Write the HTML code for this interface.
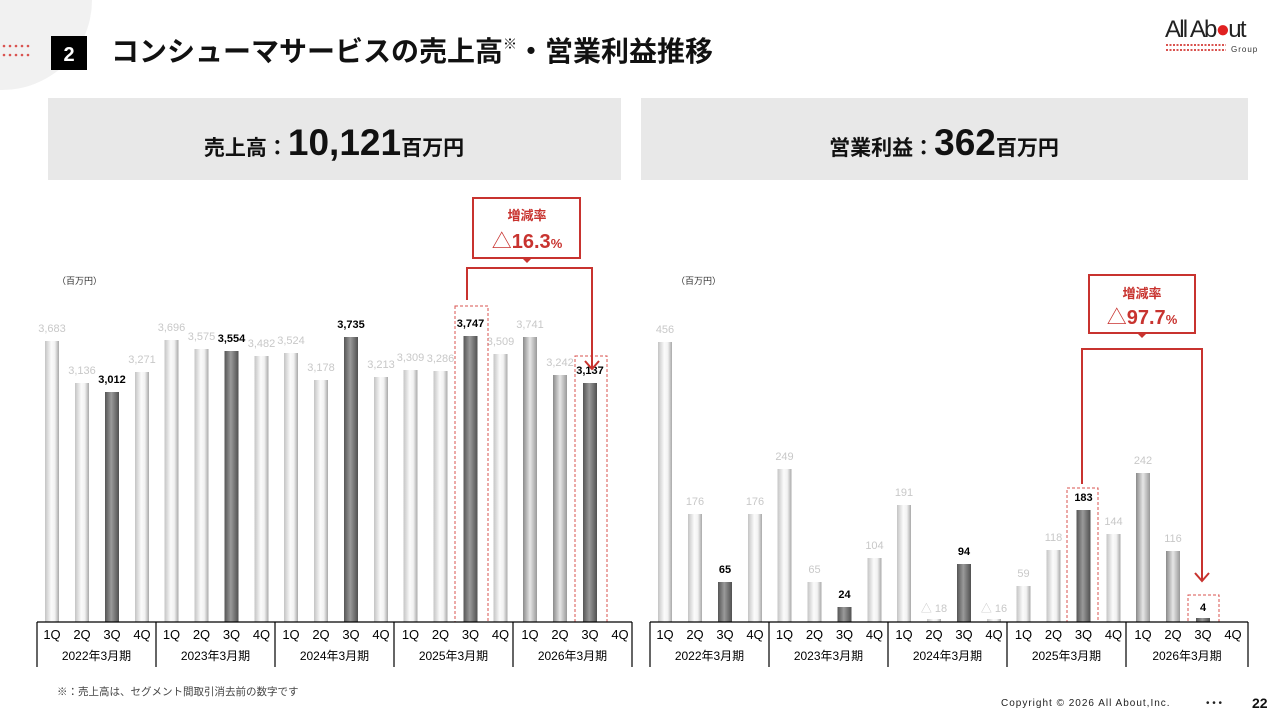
<!DOCTYPE html>
<html><head><meta charset="utf-8"><style>
html,body{margin:0;padding:0;background:#fff}
svg{display:block;font-family:"Liberation Sans","Noto Sans CJK JP",sans-serif}
.l{fill:#c8c8c8;font-size:11px;text-anchor:middle}
.d{fill:#000;font-size:11px;font-weight:bold;text-anchor:middle}
.q{font-size:13px;text-anchor:middle;fill:#000}
.y{font-size:12px;text-anchor:middle;fill:#000}
</style></head><body>
<svg width="1280" height="720" viewBox="0 0 1280 720" xmlns="http://www.w3.org/2000/svg">
<defs>
<linearGradient id="gl" x1="0" x2="1"><stop offset="0" stop-color="#c4c4c4"/><stop offset=".45" stop-color="#fbfbfb"/><stop offset=".7" stop-color="#f2f2f2"/><stop offset="1" stop-color="#a8a8a8"/></linearGradient>
<linearGradient id="gd" x1="0" x2="1"><stop offset="0" stop-color="#555"/><stop offset=".45" stop-color="#9a9a9a"/><stop offset="1" stop-color="#505050"/></linearGradient>
<linearGradient id="gm" x1="0" x2="1"><stop offset="0" stop-color="#8a8a8a"/><stop offset=".5" stop-color="#e6e6e6"/><stop offset="1" stop-color="#999"/></linearGradient>
</defs>
<path d="M0 0 H92 A90 90 0 0 1 0 90 Z" fill="#f1f1f1"/>
<g fill="#d9534f">
<circle cx="4" cy="46" r="1.3"/><circle cx="10" cy="46" r="1.3"/><circle cx="16" cy="46" r="1.3"/><circle cx="22" cy="46" r="1.3"/><circle cx="28" cy="46" r="1.3"/>
<circle cx="4" cy="55" r="1.3"/><circle cx="10" cy="55" r="1.3"/><circle cx="16" cy="55" r="1.3"/><circle cx="22" cy="55" r="1.3"/><circle cx="28" cy="55" r="1.3"/>
</g>
<rect x="51" y="36" width="36" height="34" fill="#000"/>
<text x="69" y="61" fill="#fff" font-size="20" font-weight="bold" text-anchor="middle">2</text>
<text x="111" y="61" font-size="28" font-weight="bold" fill="#111">コンシューマサービスの売上高<tspan font-size="14" dy="-12">※</tspan><tspan dy="12">・営業利益推移</tspan></text>
<text x="1165" y="37" font-size="24" fill="#222" letter-spacing="-1.8">All Ab<tspan fill="#e02020">●</tspan>ut</text>
<g stroke="#d9534f" stroke-width="2" stroke-dasharray="2,1.5"><line x1="1166" y1="45" x2="1226" y2="45"/><line x1="1166" y1="50" x2="1226" y2="50"/></g>
<text x="1231" y="52" font-size="8" fill="#333" letter-spacing="1">Group</text>
<rect x="48" y="98" width="573" height="82" fill="#e8e8e8"/>
<rect x="641" y="98" width="607" height="82" fill="#e8e8e8"/>
<text x="334" y="155" text-anchor="middle" font-weight="bold" fill="#111"><tspan font-size="21">売上高：</tspan><tspan font-size="37">10,121</tspan><tspan font-size="21">百万円</tspan></text>
<text x="944" y="155" text-anchor="middle" font-weight="bold" fill="#111"><tspan font-size="21">営業利益：</tspan><tspan font-size="37">362</tspan><tspan font-size="21">百万円</tspan></text>
<text x="57" y="284" font-size="9" fill="#333">（百万円）</text>
<text x="676" y="284" font-size="9" fill="#333">（百万円）</text>

<g>
<rect x="45" y="341" width="14" height="281" fill="url(#gl)"/><text class="l" x="52" y="332">3,683</text>
<rect x="75" y="383" width="14" height="239" fill="url(#gl)"/><text class="l" x="82" y="374">3,136</text>
<rect x="105" y="392" width="14" height="230" fill="url(#gd)"/><text class="d" x="112" y="383">3,012</text>
<rect x="135" y="372" width="14" height="250" fill="url(#gl)"/><text class="l" x="142" y="363">3,271</text>
<rect x="164.5" y="340" width="14" height="282" fill="url(#gl)"/><text class="l" x="171.5" y="331">3,696</text>
<rect x="194.5" y="349" width="14" height="273" fill="url(#gl)"/><text class="l" x="201.5" y="340">3,575</text>
<rect x="224.5" y="351" width="14" height="271" fill="url(#gd)"/><text class="d" x="231.5" y="342">3,554</text>
<rect x="254.5" y="356" width="14" height="266" fill="url(#gl)"/><text class="l" x="261.5" y="347">3,482</text>
<rect x="284" y="353" width="14" height="269" fill="url(#gl)"/><text class="l" x="291" y="344">3,524</text>
<rect x="314" y="380" width="14" height="242" fill="url(#gl)"/><text class="l" x="321" y="371">3,178</text>
<rect x="344" y="337" width="14" height="285" fill="url(#gd)"/><text class="d" x="351" y="328">3,735</text>
<rect x="374" y="377" width="14" height="245" fill="url(#gl)"/><text class="l" x="381" y="368">3,213</text>
<rect x="403.5" y="370" width="14" height="252" fill="url(#gl)"/><text class="l" x="410.5" y="361">3,309</text>
<rect x="433.5" y="371" width="14" height="251" fill="url(#gl)"/><text class="l" x="440.5" y="362">3,286</text>
<rect x="463.5" y="336" width="14" height="286" fill="url(#gd)"/><text class="d" x="470.5" y="327">3,747</text>
<rect x="493.5" y="354" width="14" height="268" fill="url(#gl)"/><text class="l" x="500.5" y="345">3,509</text>
<rect x="523" y="337" width="14" height="285" fill="url(#gm)"/><text class="l" x="530" y="328">3,741</text>
<rect x="553" y="375" width="14" height="247" fill="url(#gm)"/><text class="l" x="560" y="366">3,242</text>
<rect x="583" y="383" width="14" height="239" fill="url(#gd)"/><text class="d" x="590" y="374">3,137</text>
</g>
<g>
<rect x="658" y="342" width="14" height="280" fill="url(#gl)"/><text class="l" x="665" y="333">456</text>
<rect x="688" y="514" width="14" height="108" fill="url(#gl)"/><text class="l" x="695" y="505">176</text>
<rect x="718" y="582" width="14" height="40" fill="url(#gd)"/><text class="d" x="725" y="573">65</text>
<rect x="748" y="514" width="14" height="108" fill="url(#gl)"/><text class="l" x="755" y="505">176</text>
<rect x="777.5" y="469" width="14" height="153" fill="url(#gl)"/><text class="l" x="784.5" y="460">249</text>
<rect x="807.5" y="582" width="14" height="40" fill="url(#gl)"/><text class="l" x="814.5" y="573">65</text>
<rect x="837.5" y="607" width="14" height="15" fill="url(#gd)"/><text class="d" x="844.5" y="598">24</text>
<rect x="867.5" y="558" width="14" height="64" fill="url(#gl)"/><text class="l" x="874.5" y="549">104</text>
<rect x="897" y="505" width="14" height="117" fill="url(#gl)"/><text class="l" x="904" y="496">191</text>
<rect x="927" y="619" width="14" height="3" fill="url(#gl)"/><text class="l" x="934" y="612">△ 18</text>
<rect x="957" y="564" width="14" height="58" fill="url(#gd)"/><text class="d" x="964" y="555">94</text>
<rect x="987" y="619" width="14" height="3" fill="url(#gl)"/><text class="l" x="994" y="612">△ 16</text>
<rect x="1016.5" y="586" width="14" height="36" fill="url(#gl)"/><text class="l" x="1023.5" y="577">59</text>
<rect x="1046.5" y="550" width="14" height="72" fill="url(#gl)"/><text class="l" x="1053.5" y="541">118</text>
<rect x="1076.5" y="510" width="14" height="112" fill="url(#gd)"/><text class="d" x="1083.5" y="501">183</text>
<rect x="1106.5" y="534" width="14" height="88" fill="url(#gl)"/><text class="l" x="1113.5" y="525">144</text>
<rect x="1136" y="473" width="14" height="149" fill="url(#gm)"/><text class="l" x="1143" y="464">242</text>
<rect x="1166" y="551" width="14" height="71" fill="url(#gm)"/><text class="l" x="1173" y="542">116</text>
<rect x="1196" y="618" width="14" height="4" fill="url(#gd)"/><text class="d" x="1203" y="611">4</text>
</g>

<g fill="none" stroke="#d9534f" stroke-width="1" stroke-dasharray="3,2">
<rect x="455" y="306" width="33" height="316"/>
<rect x="575" y="356" width="32" height="266"/>
<rect x="1067" y="488" width="31" height="134"/>
<rect x="1188" y="595" width="31" height="27"/>
</g>
<g fill="none" stroke="#c8332f" stroke-width="2">
<rect x="473" y="198" width="107" height="60" fill="#fff"/>
<polyline points="467,300 467,268 592,268 592,368"/>
<polyline points="585,361 592,369 599,361"/>
<rect x="1089" y="275" width="106" height="58" fill="#fff"/>
<polyline points="1082,484 1082,349 1202,349 1202,580"/>
<polyline points="1195,573 1202,581 1209,573"/>
</g>
<polygon points="522,258 532,258 527,263" fill="#c8332f"/>
<polygon points="1137,333 1147,333 1142,338" fill="#c8332f"/>
<g fill="#c8332f" font-weight="bold" text-anchor="middle">
<text x="527" y="220" font-size="13">増減率</text>
<text x="527" y="248" font-size="20"><tspan font-weight="normal">△</tspan>16.3<tspan font-size="13">%</tspan></text>
<text x="1142" y="298" font-size="13">増減率</text>
<text x="1142" y="324" font-size="20"><tspan font-weight="normal">△</tspan>97.7<tspan font-size="13">%</tspan></text>
</g>

<g stroke="#000" stroke-width="1.2">
<line x1="37" y1="622" x2="632" y2="622"/>
<line x1="37" y1="622" x2="37" y2="667"/><line x1="156" y1="622" x2="156" y2="667"/><line x1="275" y1="622" x2="275" y2="667"/><line x1="394" y1="622" x2="394" y2="667"/><line x1="513" y1="622" x2="513" y2="667"/><line x1="632" y1="622" x2="632" y2="667"/>
<line x1="650" y1="622" x2="1248" y2="622"/>
<line x1="650" y1="622" x2="650" y2="667"/><line x1="769" y1="622" x2="769" y2="667"/><line x1="888" y1="622" x2="888" y2="667"/><line x1="1007" y1="622" x2="1007" y2="667"/><line x1="1126" y1="622" x2="1126" y2="667"/><line x1="1248" y1="622" x2="1248" y2="667"/>
</g>
<g>
<text class="q" x="52" y="639">1Q</text><text class="q" x="82" y="639">2Q</text><text class="q" x="112" y="639">3Q</text><text class="q" x="142" y="639">4Q</text>
<text class="q" x="171.5" y="639">1Q</text><text class="q" x="201.5" y="639">2Q</text><text class="q" x="231.5" y="639">3Q</text><text class="q" x="261.5" y="639">4Q</text>
<text class="q" x="291" y="639">1Q</text><text class="q" x="321" y="639">2Q</text><text class="q" x="351" y="639">3Q</text><text class="q" x="381" y="639">4Q</text>
<text class="q" x="410.5" y="639">1Q</text><text class="q" x="440.5" y="639">2Q</text><text class="q" x="470.5" y="639">3Q</text><text class="q" x="500.5" y="639">4Q</text>
<text class="q" x="530" y="639">1Q</text><text class="q" x="560" y="639">2Q</text><text class="q" x="590" y="639">3Q</text><text class="q" x="620" y="639">4Q</text>
<text class="q" x="665" y="639">1Q</text><text class="q" x="695" y="639">2Q</text><text class="q" x="725" y="639">3Q</text><text class="q" x="755" y="639">4Q</text>
<text class="q" x="784.5" y="639">1Q</text><text class="q" x="814.5" y="639">2Q</text><text class="q" x="844.5" y="639">3Q</text><text class="q" x="874.5" y="639">4Q</text>
<text class="q" x="904" y="639">1Q</text><text class="q" x="934" y="639">2Q</text><text class="q" x="964" y="639">3Q</text><text class="q" x="994" y="639">4Q</text>
<text class="q" x="1023.5" y="639">1Q</text><text class="q" x="1053.5" y="639">2Q</text><text class="q" x="1083.5" y="639">3Q</text><text class="q" x="1113.5" y="639">4Q</text>
<text class="q" x="1143" y="639">1Q</text><text class="q" x="1173" y="639">2Q</text><text class="q" x="1203" y="639">3Q</text><text class="q" x="1233" y="639">4Q</text>
</g>
<text class="y" x="96.5" y="660">2022年3月期</text><text class="y" x="215.5" y="660">2023年3月期</text><text class="y" x="334.5" y="660">2024年3月期</text><text class="y" x="453.5" y="660">2025年3月期</text><text class="y" x="572.5" y="660">2026年3月期</text>
<text class="y" x="709.5" y="660">2022年3月期</text><text class="y" x="828.5" y="660">2023年3月期</text><text class="y" x="947.5" y="660">2024年3月期</text><text class="y" x="1066.5" y="660">2025年3月期</text><text class="y" x="1187" y="660">2026年3月期</text>

<text x="57" y="695" font-size="10.5" fill="#444">※：売上高は、セグメント間取引消去前の数字です</text>
<text x="1001" y="706" font-size="10" fill="#222" letter-spacing="1">Copyright © 2026 All About,Inc.</text>
<text x="1206" y="706" font-size="10" fill="#222">• • •</text>
<text x="1252" y="708" font-size="14" font-weight="bold" fill="#111">22</text>
</svg>
</body></html>
